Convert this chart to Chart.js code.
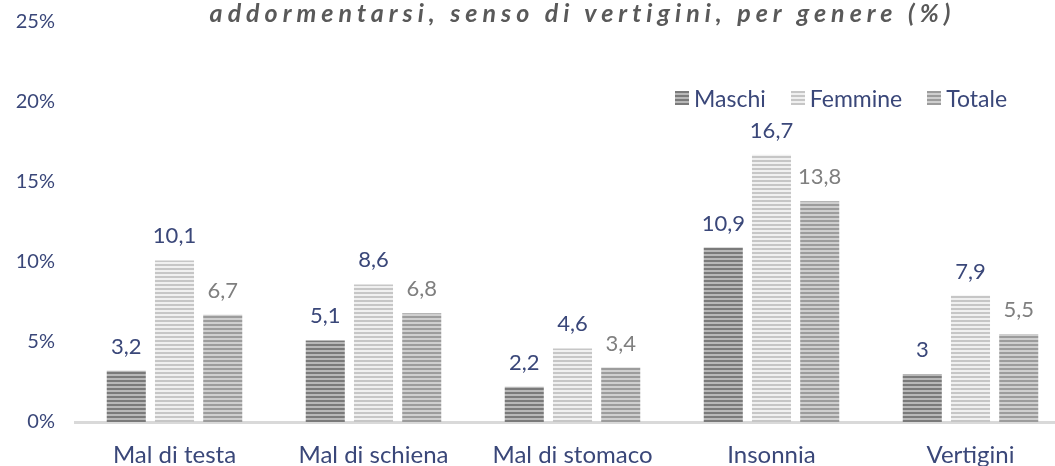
<!DOCTYPE html>
<html lang="it">
<head>
<meta charset="utf-8">
<script src="https://cdn.jsdelivr.net/npm/chart.js@4.4.1/dist/chart.umd.min.js"></script>
<style>
  html, body { margin: 0; padding: 0; background: #fff; overflow: hidden; }
  body { width: 1055px; height: 466px; position: relative; font-family: Lato, "Open Sans", sans-serif; }
  #wrap { position: absolute; left: 0; top: 0; width: 1070px; height: 466px; }
  #title {
    position: absolute; top: -3px; left: 0; width: 1165px; text-align: center;
    font: italic bold 25px Lato, sans-serif; letter-spacing: 5px; color: #595959;
    line-height: 30px; white-space: nowrap;
  }
  #legend { position: absolute; top: 84px; left: 675px; display: flex; gap: 25px; font-size: 23px; color: #3a4779; line-height: 28px; }
  #legend span { display: flex; align-items: center; }
  #legend i { display: inline-block; width: 14px; height: 14px; margin-right: 5px; }
</style>
</head>
<body>
<div id="wrap"><canvas id="c"></canvas></div>
<div id="title">addormentarsi, senso di vertigini, per genere (%)</div>
<div id="legend"></div>
<script>
// Data
const categories = ['Mal di testa', 'Mal di schiena', 'Mal di stomaco', 'Insonnia', 'Vertigini'];
const seriesNames = ['Maschi', 'Femmine', 'Totale'];
const maschi  = [3.2, 5.1, 2.2, 10.9, 3];
const femmine = [10.1, 8.6, 4.6, 16.7, 7.9];
const totale  = [6.7, 6.8, 3.4, 13.8, 5.5];
const yTicks = [0, 5, 10, 15, 20, 25];

const navy = '#3a4779';
const stripeColors = [['#7a7a7a', '#b8b8b8'], ['#c6c6c6', '#f0f0f0'], ['#9c9c9c', '#cfcfcf']];
const labelColors = [navy, navy, '#7f7f7f'];

function stripe(dark, light) {
  const p = document.createElement('canvas');
  p.width = 4; p.height = 4;
  const g = p.getContext('2d');
  g.fillStyle = light; g.fillRect(0, 0, 4, 4);
  g.fillStyle = dark; g.fillRect(0, 0, 4, 2);
  return document.getElementById('c').getContext('2d').createPattern(p, 'repeat');
}

// legend
const lg = document.getElementById('legend');
seriesNames.forEach((n, i) => {
  const [d, l] = stripeColors[i];
  lg.insertAdjacentHTML('beforeend',
    `<span><i style="background:repeating-linear-gradient(to bottom, ${d} 0 2px, ${l} 2px 4px)"></i>${n}</span>`);
});

const valueLabels = {
  id: 'valueLabels',
  afterDatasetsDraw(chart) {
    const ctx = chart.ctx;
    ctx.save();
    ctx.font = '22px Lato, sans-serif';
    ctx.textAlign = 'center';
    ctx.textBaseline = 'alphabetic';
    chart.data.datasets.forEach((ds, i) => {
      ctx.fillStyle = labelColors[i];
      chart.getDatasetMeta(i).data.forEach((bar, j) => {
        ctx.fillText(String(ds.data[j]).replace('.', ','), bar.x, bar.y - 17);
      });
    });
    ctx.restore();
  }
};

const allSeries = [maschi, femmine, totale];
new Chart(document.getElementById('c'), {
  type: 'bar',
  data: {
    labels: categories,
    datasets: allSeries.map((d, i) => ({
      label: seriesNames[i],
      data: d,
      backgroundColor: stripe(stripeColors[i][0], stripeColors[i][1]),
      categoryPercentage: 0.727,
      barPercentage: 0.81
    }))
  },
  options: {
    responsive: true,
    maintainAspectRatio: false,
    animation: false,
    layout: { padding: { top: 22, left: 0, right: 0, bottom: 0 } },
    plugins: { legend: { display: false }, tooltip: { enabled: false } },
    scales: {
      x: {
        grid: { display: false, drawTicks: false },
        border: { display: true, color: '#d9d9d9', width: 3 },
        ticks: { color: navy, font: { family: 'Lato', size: 24 }, padding: 19, maxRotation: 0 },
        afterFit(s) { s.height = 44; }
      },
      y: {
        min: 0, max: 25,
        afterBuildTicks(s) { s.ticks = yTicks.map(v => ({ value: v })); },
        grid: { display: false, drawTicks: false },
        border: { display: false },
        ticks: { color: navy, font: { family: 'Lato', size: 20 }, padding: 20, callback: v => v + '%' },
        afterFit(s) { s.width = 75; s.paddingTop = 0; s.paddingBottom = 0; }
      }
    }
  },
  plugins: [valueLabels]
});
</script>
</body>
</html>
